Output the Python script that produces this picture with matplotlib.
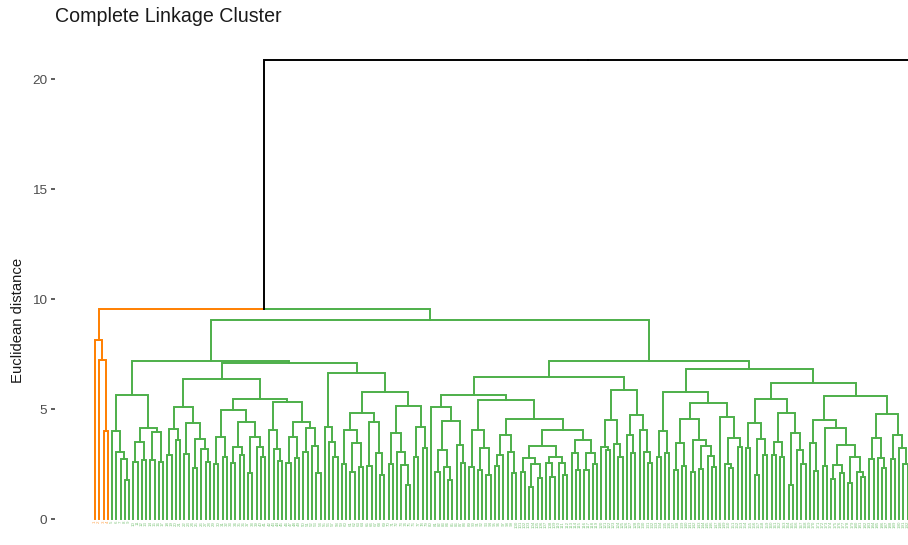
import matplotlib.pyplot as plt

plt.rcParams['font.family'] = ['Liberation Sans', 'DejaVu Sans']

# --- tree: "(left,right)height", x = one leaf
orange_tree = "(x,(x,(x,x)4.01)7.23)8.14"

A1 = "(x,(x,(x,(x,x)1.77)2.73)3.03)4.0"
A2 = "(((x,x)2.6,(x,x)2.7)3.5,((x,x)2.7,(x,x)2.6)3.97)4.12"
B1a = "((x,x)2.9,(x,x)3.6)4.08"
B1b = "((x,x)2.94,((x,x)2.33,(x,(x,x)2.6)3.17)3.62)4.35"
B2a = "(((x,x)2.5,(x,x)2.8)3.71,(((x,x)2.56,(x,x)2.91)3.29,((x,x)2.08,(x,(x,x)2.83)3.29)3.74)4.42)4.95"
B2b = "((x,(x,(x,x)2.65)3.17)4.05,(((x,x)2.56,(x,x)2.76)3.71,((x,x)3.06,(x,(x,x)2.11)3.32)4.12)4.42)5.33"
C1 = "(x,(x,(x,x)2.8)3.51)4.17"
C2a = "(((x,x)2.5,((x,x)2.15,(x,x)2.38)3.44)4.05,((x,x)2.4,(x,(x,x)2.0)2.98)4.42)4.83"
C2b = "(((x,x)2.5,(x,(x,(x,x)1.55)2.45)3.06)3.89,((x,x)2.8,(x,x)3.21)4.2)5.14"
GL = f"(({A1},{A2})5.64,((({B1a},{B1b})5.1,({B2a},{B2b})5.44)6.35,({C1},({C2a},{C2b})5.79)6.62)7.1)7.18"

D1 = "(x,(((x,x)2.15,(x,(x,x)1.77)2.38)3.14,(x,(x,x)2.56)3.36)4.47)5.1"
D2a = "((x,x)2.38,((x,x)2.23,(x,x)2.0)3.21)4.05"
D2b1 = "(((x,x)2.41,x)2.91,(x,(x,x)2.08)3.06)3.82"
D2b2 = ("((((x,x)2.15,((x,x)1.47,(x,x)1.85)2.5)2.76,((x,(x,x)1.92)2.56,(x,(x,x)2.0)2.56)2.8)3.32,"
        "((x,(x,x)2.23)2.98,((x,x)2.23,(x,x)2.5)3.02)3.59)4.05")
E1 = "((x,(x,x)3.14)3.26,(x,(x,x)2.8)3.41)4.5"
E2 = "((x,(x,x)3.0)3.82,(x,(x,(x,x)2.56)3.06)4.05)4.73"
GRL = f"(({D1},({D2a},({D2b1},{D2b2})4.55)5.41)5.64,({E1},{E2})5.86)6.44"

F1 = "((x,x)2.8,(x,x)3.02)4.02"
F2a = "(((x,x)2.23,(x,x)2.41)3.47,((x,x)2.15,((x,x)2.26,(x,(x,x)2.35)2.86)3.32)3.59)4.53"
F2b = "(x,((x,(x,x)2.3)2.5,(x,x)3.29)3.67)4.62"
G1 = "(((x,x)3.21,((x,x)2.0,(x,x)2.91)3.62)4.35,(((x,x)2.9,(x,x)2.83)3.51,((x,x)1.55,(x,(x,x)2.5)3.14)3.89)4.83)5.44"
G2a = "((x,(x,x)2.2)3.44,((x,x)2.41,(((x,x)1.8,(x,x)2.1)2.45,((x,x)1.62,(x,(x,x)1.92)2.15)2.8)3.36)4.12)4.5"
G2b = "(((x,x)2.71,(x,(x,x)2.3)2.76)3.67,((x,x)2.71,(x,(x,x)2.5)3.21)3.82)4.77"
GRR = f"(({F1},({F2a},{F2b})5.29)5.79,({G1},({G2a},{G2b})5.59)6.17)6.8"

green_tree = f"({GL},({GRL},{GRR})7.2)9.05"

og_height = 9.53      # orange + green
root_height = 20.86   # joins the third cluster, which lies right of the crop

ORANGE = '#FF7F00'
GREEN = '#4DAF4A'
BLACK = '#000000'


def parse(s):
    pos = 0

    def node():
        nonlocal pos
        if s[pos] == 'x':
            pos += 1
            return None
        pos += 1                       # (
        left = node()
        pos += 1                       # ,
        right = node()
        pos += 1                       # )
        start = pos
        while pos < len(s) and s[pos] in '0123456789.':
            pos += 1
        return (float(s[start:pos]), left, right)

    return node()


leaf_cols = []
segs = []


def layout(t, col):
    if t is None:
        leaf_cols.append(col)
        return len(leaf_cols) - 1, 0.0
    h, l, r = t
    xl, hl = layout(l, col)
    xr, hr = layout(r, col)
    x = (xl + xr) / 2
    segs.append(([xl, xl, x], [hl, h, h], col))
    segs.append(([xr, xr, x], [hr, h, h], col))
    return x, h


xo, ho = layout(parse(orange_tree), ORANGE)
xg, hg = layout(parse(green_tree), GREEN)
x_og = (xo + xg) / 2
segs.append(([xo, xo, x_og], [ho, og_height, og_height], ORANGE))
segs.append(([xg, xg, x_og], [hg, og_height, og_height], GREEN))
n_visible = len(leaf_cols)
xh, hh = layout(None, BLACK)   # placeholder for the cropped-off cluster
x_root = (x_og + xh) / 2
segs.append(([x_og, x_og, x_root], [og_height, root_height, root_height], BLACK))
segs.append(([xh, xh, x_root], [hh, root_height, root_height], BLACK))

fig = plt.figure(figsize=(9.08, 5.45), dpi=100)
ax = fig.add_axes([55 / 908, 0, 853 / 908, 1])

for xs, ys, c in segs:
    ax.plot(xs, ys, color=c, lw=1.4, solid_joinstyle='miter', solid_capstyle='projecting')

# leaf labels (too small to read in the picture: numbered in leaf order)
for i, c in enumerate(leaf_cols[:n_visible]):
    ax.text(i, -0.08, str(i + 1), rotation=90, ha='center', va='top',
            fontsize=3.2, color=c, alpha=0.7, clip_on=True)

step = 4.255   # pixels per leaf
ax.set_xlim(-40 / step, 813 / step)
ax.set_ylim((519 - 545) / 22, 519 / 22)
ax.set_yticks([0, 5, 10, 15, 20])
ax.set_xticks([])
ax.tick_params(axis='y', length=3, width=1.1, color='#333333',
               labelcolor='#4D4D4D', labelsize=9.7, pad=2.4)
for sp in ax.spines.values():
    sp.set_visible(False)

fig.text(55 / 908, 1 - 21.7 / 545, 'Complete Linkage Cluster', fontsize=14.1,
         ha='left', va='baseline', color='#1A1A1A')
fig.text(18 / 908, 1 - 320 / 545, 'Euclidean distance', rotation=90, fontsize=10.7,
         ha='center', va='center', color='#1A1A1A')

fig.savefig('out.png', dpi=100)
